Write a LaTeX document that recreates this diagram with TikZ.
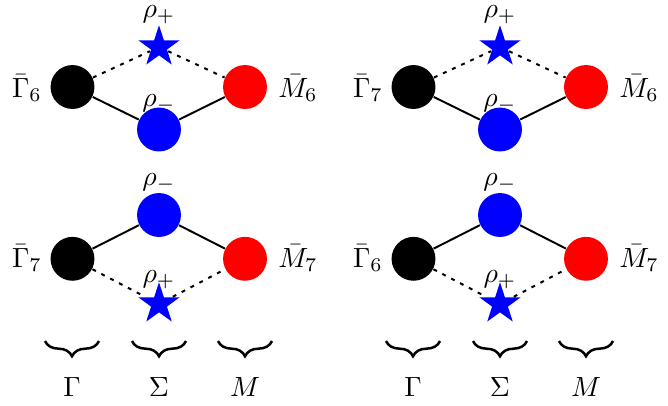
\documentclass[tikz,border=0pt]{standalone}
\usetikzlibrary{shapes.geometric,decorations.pathreplacing}
\begin{document}
\begin{tikzpicture}[x=0.36pt,y=-0.36pt,
  dot/.style={circle,minimum size=15.8pt,inner sep=0pt},
  gdot/.style={dot,fill=black},
  sdot/.style={dot,fill=blue},
  mdot/.style={dot,fill=red},
  starnode/.style={star,star points=5,star point ratio=2.6,fill=blue,minimum size=15.6pt,inner sep=0pt},
  solidline/.style={line width=0.7pt},
  dotline/.style={line width=0.72pt,dash pattern=on 1.4pt off 2.2pt},
  bracestyle/.style={decorate,decoration={brace,mirror,amplitude=5.5pt},line width=0.9pt},
  lbl/.style={inner sep=0pt}]
\useasboundingbox (0,0) rectangle (668,405);
% top-left
\node[gdot] (g1) at (72.5,87) {};
\node[sdot] (s1) at (159,129.5) {};
\node[mdot] (m1) at (245,87) {};
\node[starnode] (p1) at (159,47) {};
\draw[solidline] (g1) -- (s1) -- (m1);
\draw[dotline] (g1) -- (p1) -- (m1);
\node[lbl] (lg1) at (27,88) {$\bar\Gamma_6$};
\node[lbl] (lm1) at (298,88) {$\bar M_6$};
\node[lbl] (lp1) at (159,14.5) {$\rho_+$};
\node[lbl] (ls1) at (159,103.5) {$\rho_-$};
% bottom-left
\node[gdot] (g2) at (72.5,258.8) {};
\node[sdot] (s2) at (159,215) {};
\node[mdot] (m2) at (245,258.8) {};
\draw[solidline] (g2) -- (s2) -- (m2);
\node[starnode] (p2) at (159,304) {};
\draw[dotline] (g2) -- (p2) -- (m2);
\node[lbl] (lg2) at (27,258) {$\bar\Gamma_7$};
\node[lbl] (lm2) at (298,258) {$\bar M_7$};
\node[lbl] (ls2) at (159,183) {$\rho_-$};
\node[lbl] (lp2) at (159,280) {$\rho_+$};
% top-right
\node[gdot] (g3) at (413.5,87) {};
\node[sdot] (s3) at (500,129.5) {};
\node[mdot] (m3) at (586,87) {};
\node[starnode] (p3) at (500,47) {};
\draw[solidline] (g3) -- (s3) -- (m3);
\draw[dotline] (g3) -- (p3) -- (m3);
\node[lbl] (lg3) at (368,88) {$\bar\Gamma_7$};
\node[lbl] (lm3) at (639,88) {$\bar M_6$};
\node[lbl] (lp3) at (500,14.5) {$\rho_+$};
\node[lbl] (ls3) at (500,103.5) {$\rho_-$};
% bottom-right
\node[gdot] (g4) at (413.5,258.8) {};
\node[sdot] (s4) at (500,215) {};
\node[mdot] (m4) at (586,258.8) {};
\draw[solidline] (g4) -- (s4) -- (m4);
\node[starnode] (p4) at (500,304) {};
\draw[dotline] (g4) -- (p4) -- (m4);
\node[lbl] (lg4) at (368,258) {$\bar\Gamma_6$};
\node[lbl] (lm4) at (639,258) {$\bar M_7$};
\node[lbl] (ls4) at (500,183) {$\rho_-$};
\node[lbl] (lp4) at (500,280) {$\rho_+$};
% braces and labels
\foreach \dx in {0,341}{
  \draw[bracestyle] (45+\dx,341) -- (99+\dx,341);
  \draw[bracestyle] (132+\dx,341) -- (186+\dx,341);
  \draw[bracestyle] (218+\dx,341) -- (272+\dx,341);
}
\node[lbl] (t1) at (72,387) {$\Gamma$};
\node[lbl] (t2) at (159,387) {$\Sigma$};
\node[lbl] (t3) at (245,387) {$M$};
\node[lbl] (t4) at (413,387) {$\Gamma$};
\node[lbl] (t5) at (500,387) {$\Sigma$};
\node[lbl] (t6) at (586,387) {$M$};
\end{tikzpicture}
\end{document}
